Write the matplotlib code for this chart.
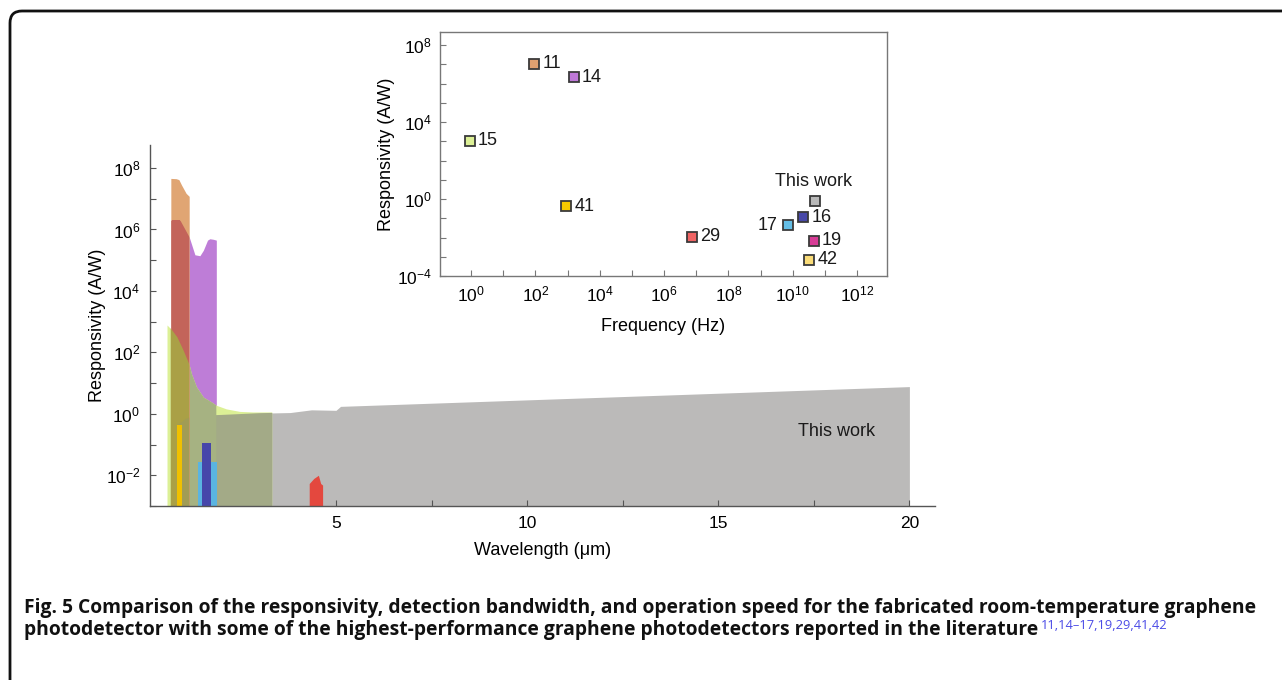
import numpy as np
import matplotlib.pyplot as plt
from matplotlib.patches import FancyBboxPatch
from matplotlib.transforms import IdentityTransform
from matplotlib.ticker import FixedLocator, FuncFormatter, NullLocator

plt.rcParams['font.family'] = ['Liberation Sans', 'DejaVu Sans']
plt.rcParams['mathtext.fontset'] = 'custom'
plt.rcParams['mathtext.rm'] = 'Liberation Sans'
plt.rcParams['mathtext.it'] = 'Liberation Sans:italic'
plt.rcParams['mathtext.bf'] = 'Liberation Sans:bold'

# main panel: wavelength (um) vs responsivity (A/W)
wl_this = [0.85, 0.95, 1.05, 1.2, 1.5, 2.0, 3.0, 3.8, 4.36, 5.0, 5.12, 20.0]
r_this = [0.45, 0.55, 0.70, 0.82, 0.88, 0.92, 1.05, 1.1, 1.35, 1.3, 1.75, 7.7]

wl_15 = [0.58, 0.70, 0.84, 1.00, 1.16, 1.22, 1.35, 1.53, 1.74, 1.87, 2.13, 2.48, 2.83, 3.32]
r_15 = [780, 550, 320, 120, 40, 20, 7.6, 3.5, 2.45, 1.9, 1.45, 1.2, 1.15, 1.15]

wl_14 = [0.68, 0.92, 1.16, 1.31, 1.44, 1.53, 1.64, 1.70, 1.79, 1.87]
r_14 = [2.0e6, 2.0e6, 5.7e5, 1.5e5, 1.4e5, 2.1e5, 4.5e5, 5.0e5, 4.8e5, 4.5e5]

wl_11 = [0.68, 0.82, 0.89, 0.96, 1.08, 1.16]
r_11 = [4.6e7, 4.5e7, 4.2e7, 2.8e7, 1.5e7, 1.2e7]

wl_29 = [4.30, 4.42, 4.54, 4.60, 4.65]
r_29 = [5.4e-3, 7.9e-3, 1.0e-2, 5.4e-3, 4.8e-3]

wl_41 = [0.84, 0.97]
r_41 = [0.42, 0.42]
wl_17 = [1.40, 1.90]
r_17 = [0.027, 0.027]
wl_16 = [1.50, 1.74]
r_16 = [0.11, 0.11]

# inset: frequency (Hz) vs responsivity (A/W)
refs = ['11', '14', '15', '41', '29', '17', '16', 'This work', '19', '42']
freq = [91, 1.55e3, 0.91, 912, 7.2e6, 6.9e9, 2.1e10, 4.9e10, 4.5e10, 3.3e10]
resp = [1.07e7, 2.1e6, 1.07e3, 0.42, 0.011, 0.043, 0.11, 0.79, 6.6e-3, 6.8e-4]
ref_colors = ['#E0A070', '#BE78D7', '#DCF096', '#F5C800', '#F06464',
              '#64BEE6', '#4848A8', '#B9B9B9', '#D73C96', '#FADC78']
label_side = ['r', 'r', 'r', 'r', 'r', 'l', 'r', 't', 'r', 'r']

ymin = 1e-3

fig = plt.figure(figsize=(12.82, 6.8), dpi=100)

# ---------------- main panel ----------------
ax = fig.add_axes([150/1282, 174/680, 785/1282, 361/680])
ax.set_yscale('log')
ax.set_xlim(0.135, 20.67)
ax.set_ylim(ymin, 10**8.75)


def region(x, y, color, z, clip=None):
    c = ax.fill_between(x, ymin, y, color=color, lw=0, zorder=z)
    if clip is not None:
        c.set_clip_path(clip.get_paths()[0], ax.transData)
    return c


# overlaps are painted as their own colour, clipped to the region underneath
g_this = region(wl_this, r_this, '#BBBAB9', 1)
g_14 = region(wl_14, r_14, '#BE7DD7', 2)
g_15 = region(wl_15, r_15, '#DCF096', 3)
region(wl_15, r_15, '#A3AA87', 4, clip=g_this)
region(wl_15, r_15, '#A6B282', 5, clip=g_14)
g_11 = region(wl_11, r_11, '#E0A573', 6)
region(wl_14, r_14, '#C3645A', 7, clip=g_11)
region(wl_15, r_15, '#AAA046', 8, clip=g_11)
region(wl_this, r_this, '#A19C55', 9, clip=g_11)

region(wl_41, r_41, '#F0C000', 10)
region(wl_17, r_17, '#5AB4E1', 11)
region(wl_16, r_16, '#4646AA', 12)
region(wl_29, r_29, '#E4483E', 13)

ax.text(18.1, 0.26, 'This work', fontsize=13, ha='center', va='center', color='#1a1a1a', zorder=20)

ax.spines['top'].set_visible(False)
ax.spines['right'].set_visible(False)
for s in ['left', 'bottom']:
    ax.spines[s].set_color('#555555')
    ax.spines[s].set_linewidth(1.0)
    ax.spines[s].set_zorder(30)

ax.yaxis.set_major_locator(FixedLocator([10.0**k for k in range(-3, 9)]))
ax.yaxis.set_minor_locator(NullLocator())
ax.yaxis.set_major_formatter(FuncFormatter(
    lambda v, p: r'$10^{%d}$' % round(np.log10(v)) if round(np.log10(v)) % 2 == 0 else ''))
ax.xaxis.set_major_locator(FixedLocator([2.5, 5, 7.5, 10, 12.5, 15, 17.5, 20]))
ax.xaxis.set_major_formatter(FuncFormatter(lambda v, p: '%d' % v if v % 5 == 0 else ''))
ax.tick_params(direction='in', length=4, width=0.8, color='#555555', labelsize=12.5, pad=7)
ax.set_xlabel('Wavelength (\u03bcm)', fontsize=13, labelpad=8)
ax.set_ylabel('Responsivity (A/W)', fontsize=13, labelpad=0)

# ---------------- inset ----------------
ins = fig.add_axes([440/1282, 404/680, 447/1282, 244/680])
ins.set_xscale('log')
ins.set_yscale('log')
ins.set_xlim(10**-0.964, 10**12.93)
ins.set_ylim(1e-4, 10**8.68)
for s in ins.spines.values():
    s.set_color('#777777')
    s.set_linewidth(1.0)

for f, r, lab, col, side in zip(freq, resp, refs, ref_colors, label_side):
    ins.plot([f], [r], 's', ms=7, mfc=col, mec='#3a3a3a', mew=1.3, zorder=3)
    if side == 'r':
        ins.annotate(lab, (f, r), xytext=(6, 0), textcoords='offset points',
                     ha='left', va='center', fontsize=13, color='#1a1a1a')
    elif side == 'l':
        ins.annotate(lab, (f, r), xytext=(-7, 0), textcoords='offset points',
                     ha='right', va='center', fontsize=13, color='#1a1a1a')
    else:
        ins.annotate(lab, (f, r), xytext=(-1, 14), textcoords='offset points',
                     ha='center', va='center', fontsize=13, color='#1a1a1a')

ins.xaxis.set_major_locator(FixedLocator([10.0**k for k in range(0, 13)]))
ins.xaxis.set_minor_locator(NullLocator())
ins.xaxis.set_major_formatter(FuncFormatter(
    lambda v, p: r'$10^{%d}$' % round(np.log10(v)) if round(np.log10(v)) % 2 == 0 else ''))
ins.yaxis.set_major_locator(FixedLocator([10.0**k for k in range(-4, 9)]))
ins.yaxis.set_minor_locator(NullLocator())
ins.yaxis.set_major_formatter(FuncFormatter(
    lambda v, p: r'$10^{%d}$' % round(np.log10(v)) if round(np.log10(v)) % 4 == 0 else ''))
ins.tick_params(direction='in', length=4, width=0.8, color='#777777', labelsize=12.5, pad=6)
ins.set_xlabel('Frequency (Hz)', fontsize=13, labelpad=10)
ins.set_ylabel('Responsivity (A/W)', fontsize=13, labelpad=1.5)

# ---------------- caption and frame ----------------
line1 = ('Fig. 5 Comparison of the responsivity, detection bandwidth, and operation speed '
         'for the fabricated room-temperature graphene')
line2 = ('photodetector with some of the highest-performance graphene photodetectors '
         'reported in the literature')
cap_kw = dict(fontsize=13.85, fontweight='bold', family=['Open Sans', 'DejaVu Sans'], color='#111111')
fig.text(24/1282, 1 - 613/680, line1, va='baseline', **cap_kw)
t2 = fig.text(24/1282, 1 - 635/680, line2, va='baseline', **cap_kw)
fig.add_artist(plt.Annotation('11,14\u201317,19,29,41,42', xy=(1, 1), xycoords=t2,
                              xytext=(2, 1), textcoords='offset points', ha='left', va='top',
                              fontsize=9.3, color='#4B4BE6', family=['Open Sans', 'DejaVu Sans']))

frame = FancyBboxPatch((10, -60), 1400, 729, boxstyle='round,pad=0,rounding_size=12',
                       transform=IdentityTransform(), fill=False, ec='#111111', lw=2)
fig.add_artist(frame)

fig.savefig('out.png', dpi=100)
